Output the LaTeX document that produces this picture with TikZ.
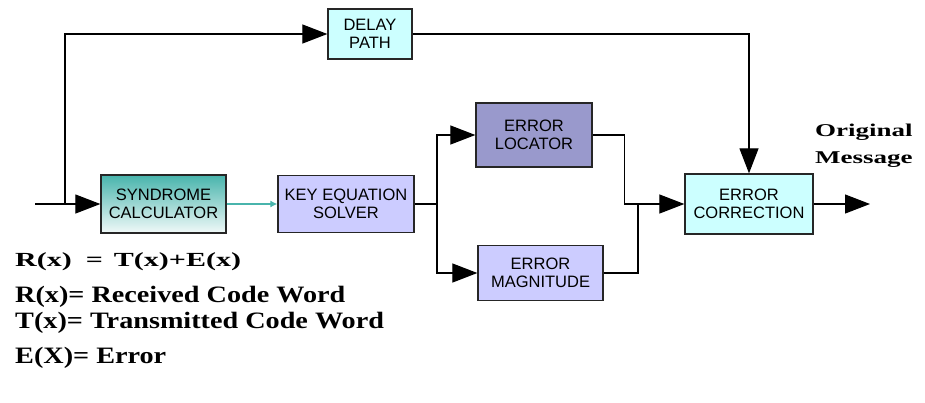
\documentclass[tikz,border=0pt]{standalone}
\usepackage{fontspec}
\setmainfont{Liberation Serif}
\setsansfont{Liberation Sans}
\newfontfamily\legendfont[FakeStretch=1.2]{Liberation Serif}
\newfontfamily\widefont[FakeStretch=1.5]{Liberation Serif}
\usetikzlibrary{arrows.meta,positioning,calc}

\definecolor{paleCyan}{RGB}{204,255,255}
\definecolor{paleBlue}{RGB}{204,204,255}
\definecolor{midBlue}{RGB}{153,153,204}
\definecolor{synTeal}{RGB}{72,180,172}

\begin{document}
\begin{tikzpicture}[x=1pt,y=-1pt]
    \tikzset{blk/.style={draw=black!85, line width=1.3pt, align=center, inner sep=0pt,
        font=\sffamily\fontsize{16.5}{18}\selectfont},
      wire/.style={line width=1.2pt},
      bigtip/.style={wire, -{Triangle[length=25pt,width=19pt]}},
      legend/.style={anchor=west, inner sep=0pt, font=\legendfont\bfseries\fontsize{23.5}{25}\selectfont}
    }
    \useasboundingbox (0,0) rectangle (925,402);

    \node[blk, fill=paleCyan, minimum width=84pt, minimum height=50pt] (delay) at (370,34) {DELAY\\PATH};
    \node[blk, top color=synTeal, bottom color=synTeal!8, minimum width=125pt, minimum height=58pt] (synd) at (163.5,204) {SYNDROME\\CALCULATOR};
    \node[blk, fill=paleBlue, minimum width=136pt, minimum height=57pt] (keyeq) at (346,204) {KEY EQUATION\\SOLVER};
    \node[blk, fill=midBlue, minimum width=116pt, minimum height=64pt] (loc) at (534,135) {ERROR\\LOCATOR};
    \node[blk, fill=paleBlue, minimum width=125pt, minimum height=55pt] (mag) at (540.5,273) {ERROR\\MAGNITUDE};
    \node[blk, fill=paleCyan, minimum width=128pt, minimum height=60pt] (corr) at (749,204) {ERROR\\CORRECTION};

    \coordinate (in) at (35,204);
    \coordinate (tap) at (65,204);
    \coordinate (fork) at (437,204);
    \coordinate (join) at (638,204);
    \coordinate (out) at (870,204);

    % main path
    \draw[bigtip] (in) -- (synd.west);
    \draw[wire, synTeal, -{Latex[length=7pt,width=7pt]}] (synd.east) -- (keyeq.west);
    \draw[wire] (keyeq.east) -- (fork);
    \draw[bigtip] (fork) |- (loc.west);
    \draw[bigtip] (fork) |- (mag.west);
    \draw[wire] (loc.east) -- ++(32,0) |- (join);
    \draw[wire] (mag.east) -| (join);
    \draw[bigtip] (join) -- (corr.west);
    \draw[bigtip] (corr.east) -- (out);

    % delay branch
    \draw[bigtip] (tap) |- (delay.west);
    \draw[bigtip] (delay.east) -| (corr.north);

    \node[anchor=west, inner sep=0pt, align=left, font=\widefont\bfseries\fontsize{18}{27}\selectfont] (msg) at (815,146) {Original\\Message};

    \node[anchor=west, inner sep=0pt, font=\widefont\bfseries\fontsize{20}{22}\selectfont] (eqn) at (15,262) {R(x)\hspace{14pt}=\hspace{11pt}T(x)+E(x)};
    \node[legend] (rdef) at (15,297) {R(x)= Received Code Word};
    \node[legend] (tdef) at (15,323) {T(x)= Transmitted Code Word};
    \node[legend] (edef) at (15,358) {E(X)= Error};
\end{tikzpicture}
\end{document}
